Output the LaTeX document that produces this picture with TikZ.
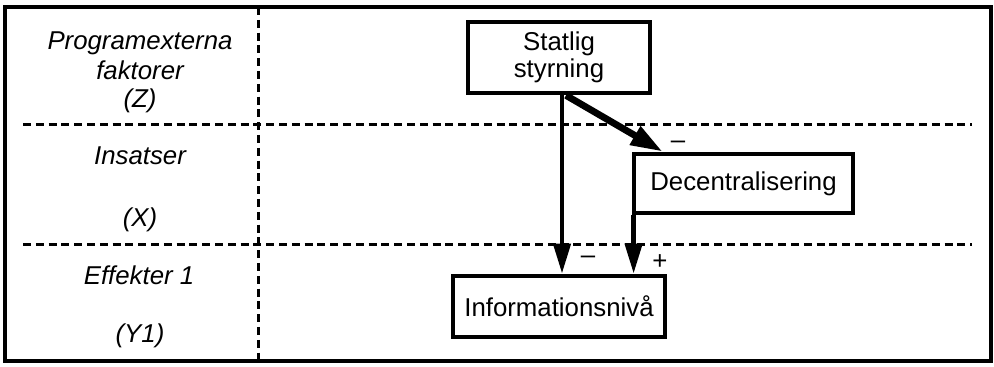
\documentclass[tikz,border=0pt]{standalone}
\usepackage{fontspec}
\setmainfont{Liberation Sans}
\usetikzlibrary{arrows.meta}
\begin{document}
\begin{tikzpicture}[x=0.5pt,y=-0.5pt,
  txt/.style={font=\fontsize{12.9}{13.5}\selectfont},
  lbl/.style={font=\fontsize{12.9}{13.5}\selectfont\itshape,anchor=base,inner sep=0pt},
  box/.style={draw,line width=2.4pt,inner sep=0pt,align=center,txt},
  divider/.style={line width=1.5pt,dash pattern=on 4pt off 2.4pt},
  link/.style={line width=2.2pt,-{Triangle[length=15pt,width=8.5pt]}},
  sign/.style={txt,inner sep=0pt}]
\useasboundingbox (0,0) rectangle (994,367);
% frame and grid
\draw[line width=1.8pt] (5,7) rectangle (991,361);
\draw[divider] (258,7) -- (258,361);
\draw[divider] (23,125) -- (972,125);
\draw[divider] (23,245) -- (972,245);
% row labels
\node[lbl] (l1) at (140,50) {Programexterna};
\node[lbl] (l2) at (140,80) {faktorer};
\node[lbl] (l3) at (140,108) {(Z)};
\node[lbl] (l4) at (140,165) {Insatser};
\node[lbl] (l5) at (140,227) {(X)};
\node[lbl] (l6) at (139,285) {Effekter 1};
\node[lbl] (l7) at (140,343) {(Y1)};
% boxes
\node[box,minimum width=91pt,minimum height=35.5pt] (stat) at (559,57.5) {Statlig\\styrning};
\node[box,minimum width=109.5pt,minimum height=29.5pt] (dec) at (743.5,183.5) {Decentralisering};
\node[box,minimum width=106pt,minimum height=30.5pt] (info) at (559,306.5) {Informationsnivå};
% connectors
\draw[link] ([xshift=1.5pt]stat.south) -- ([xshift=1.5pt]stat.south |- info.north);
\draw[link] ([xshift=1pt]dec.south west) -- ([xshift=1pt]dec.south west |- info.north);
\draw[line width=3.4pt,-{Triangle[length=16pt,width=10pt]}] ([xshift=3.5pt]stat.south) -- ([xshift=15.5pt]dec.north west);
% signs
\node[sign] (s1) at (678,145) {–};
\node[sign] (s2) at (588,260) {–};
\node[sign] (s3) at (660,262) {+};
\end{tikzpicture}
\end{document}
